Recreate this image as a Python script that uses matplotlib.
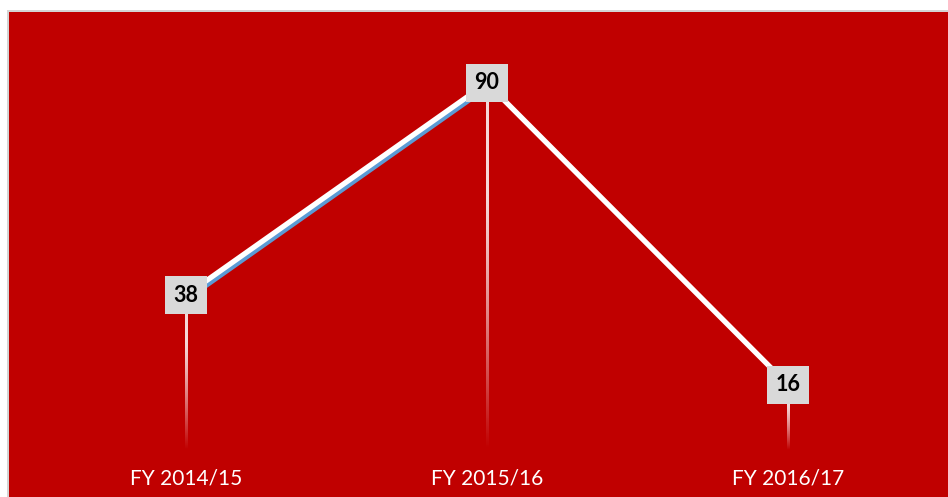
import matplotlib
matplotlib.use("Agg")
import matplotlib.pyplot as plt
import matplotlib.transforms as mtransforms
import numpy as np

# data
categories = ["FY 2014/15", "FY 2015/16", "FY 2016/17"]
values = [38, 90, 16]
prior = [38, 90]

red = "#c00000"
plt.rcParams["font.family"] = ["Lato", "DejaVu Sans"]

fig = plt.figure(figsize=(9.48, 4.97), dpi=100, facecolor="white")
W, H = 948, 497

# thin grey frame above and left of the plot area
frame = fig.add_axes([7 / W, 0, 1 - 7 / W, 1 - 10 / H])
frame.set_axis_off()
frame.add_patch(plt.Rectangle((0, 0), 1, 1, transform=frame.transAxes,
                              color="#d4d4d4", zorder=0))

ax = fig.add_axes([9 / W, 0, 1 - 9 / W, 1 - 12 / H])
ax.set_facecolor(red)
for s in ax.spines.values():
    s.set_visible(False)
ax.set_xticks([])
ax.set_yticks([])

x = np.arange(len(categories))

# drop lines fading into the background (vertical gradient images)
half_w = 1.3 / 301
for xi, v in zip(x, values):
    t = np.linspace(0, 1, 200)
    a = np.clip(1.0 - np.clip((t - 0.3) / 0.7, 0, 1) ** 1.3, 0, 1) * 0.85
    img = np.ones((len(t), 1, 4))
    img[:, 0, 3] = a
    ax.imshow(img, extent=(xi - half_w, xi + half_w, 0, v), origin="upper",
              aspect="auto", interpolation="bilinear", zorder=2)

# blue series sits just under the white one
shift = mtransforms.offset_copy(ax.transData, fig=fig, x=2, y=-3, units="dots")
ax.plot(x[:len(prior)], prior, color="#5b9bd5", lw=3.8, transform=shift,
        solid_capstyle="butt", zorder=3)
ax.plot(x, values, color="white", lw=3.8, solid_joinstyle="miter", zorder=4)

for xi, v in zip(x, values):
    ax.text(xi, v, str(v), ha="center", va="center", fontsize=15.5,
            fontweight="bold", color="black", zorder=6,
            bbox=dict(boxstyle="square,pad=0.38", fc="#d9d9d9", ec="none"))

for xi, c in zip(x, categories):
    ax.text(xi, -7.0, c, ha="center", va="center", fontsize=15, color="white")

ax.set_xlim(-0.588, 2.532)
ax.set_ylim(-11.5, 107.4)

fig.savefig("out.png", dpi=100, facecolor="white")
